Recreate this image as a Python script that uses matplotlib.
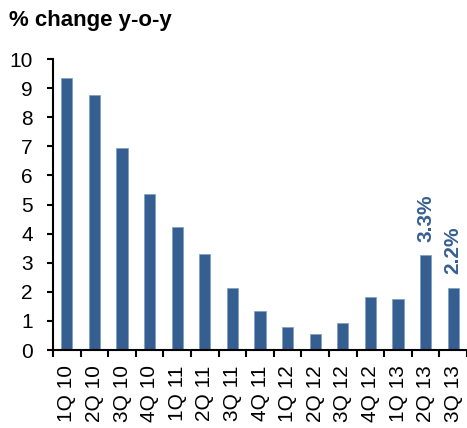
import matplotlib
matplotlib.use("Agg")
import matplotlib.pyplot as plt
import numpy as np

categories = ["1Q 10", "2Q 10", "3Q 10", "4Q 10", "1Q 11", "2Q 11", "3Q 11", "4Q 11",
              "1Q 12", "2Q 12", "3Q 12", "4Q 12", "1Q 13", "2Q 13", "3Q 13"]
values = [9.36, 8.77, 6.94, 5.36, 4.23, 3.30, 2.12, 1.36, 0.78, 0.54, 0.94, 1.82, 1.74, 3.28, 2.15]
annotations = {13: "3.3%", 14: "2.2%"}
yticks = list(range(0, 11))

plt.rcParams['font.family'] = ['Liberation Sans', 'DejaVu Sans']
color = '#365F91'

fig = plt.figure(figsize=(4.67, 4.28), dpi=100)
ax = fig.add_axes([0.1135, 0.182, 0.8865, 0.68])
x = np.arange(len(categories))
ax.bar(x, values, width=0.4, color=color, edgecolor='#7f9cc0', linewidth=0.5)
ax.set_xlim(-0.5, len(categories) - 0.5)
ax.set_ylim(0, 10)
ax.set_yticks(yticks)
ax.set_yticklabels([str(t) for t in yticks])
ax.set_xticks(x)
ax.set_xticklabels(categories, rotation=90, va='top', ha='center')
ax.set_xticks(np.arange(-0.5, len(categories), 1), minor=True)
ax.tick_params(axis='x', which='major', length=0, pad=11, labelsize=15)
ax.tick_params(axis='x', which='minor', length=5, width=1.5, direction='out')
ax.tick_params(axis='y', length=4.5, width=1.5, direction='out', labelsize=15, pad=10)
for s in ['top', 'right']:
    ax.spines[s].set_visible(False)
for s in ['left', 'bottom']:
    ax.spines[s].set_linewidth(1.5)
for i, txt in annotations.items():
    ax.text(x[i], values[i] + 0.45, txt, rotation=90, ha='center', va='bottom',
            color=color, fontsize=15, fontweight='bold')
fig.text(0.02, 0.952, "% change y-o-y", fontsize=16, fontweight='bold', ha='left', va='center')
fig.savefig("out.png", dpi=100)
